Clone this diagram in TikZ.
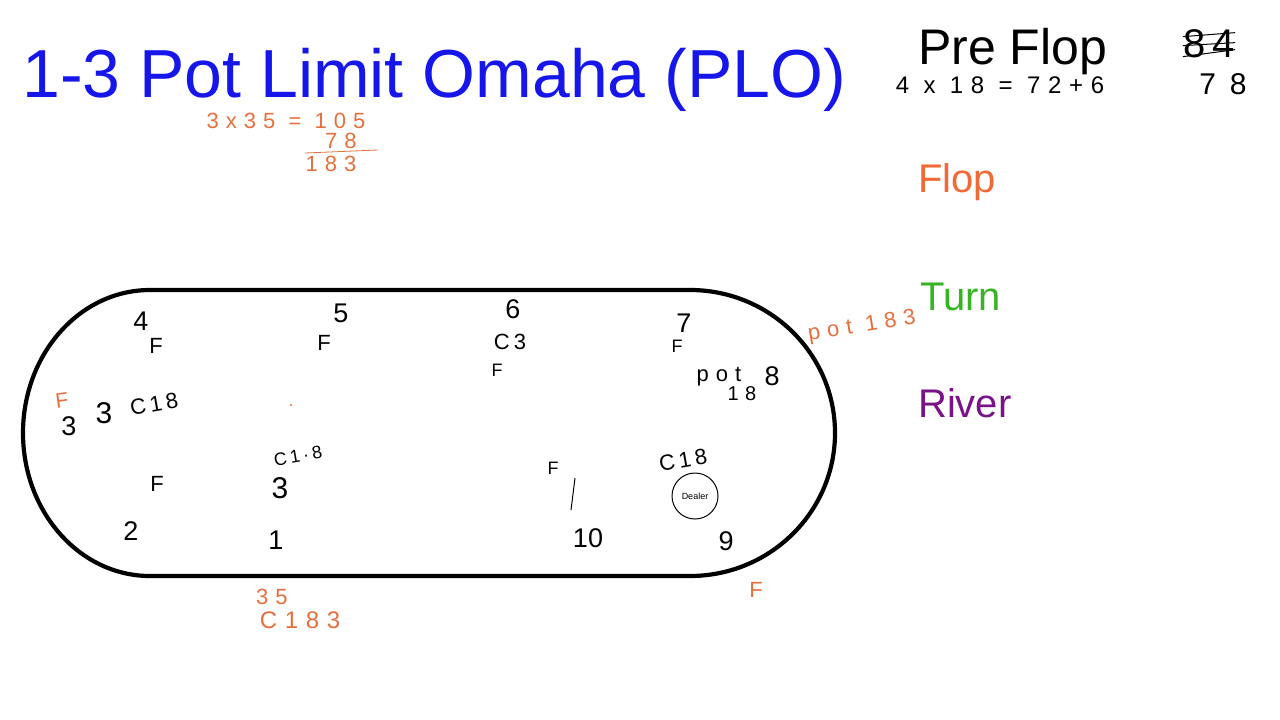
\documentclass[tikz,border=0pt]{standalone}
\usepackage{fontspec}
\setmainfont{Liberation Sans}
\newfontfamily\handfont[LetterSpace=18]{Liberation Sans}
\newfontfamily\widehand[LetterSpace=32]{Liberation Sans}
\usetikzlibrary{positioning}
\definecolor{titleblue}{RGB}{22,22,235}
\definecolor{floporange}{RGB}{240,105,55}
\definecolor{turngreen}{RGB}{55,180,35}
\definecolor{riverpurple}{RGB}{120,20,135}
\definecolor{inkorange}{RGB}{228,112,62}

\begin{document}
\begin{tikzpicture}[
    x=1pt, y=-1pt,
    title/.style   ={anchor=base west, inner sep=0pt, text=titleblue,
                     font=\fontsize{68}{72}\selectfont},
    street/.style  ={anchor=base west, inner sep=0pt,
                     font=\fontsize{40}{44}\selectfont},
    seat/.style    ={inner sep=0pt, font=\fontsize{27}{30}\selectfont},
    hand/.style    ={inner sep=0pt, font=\handfont\fontsize{22}{24}\selectfont},
    smallhand/.style={hand, font=\handfont\fontsize{18}{20}\selectfont},
    sums/.style    ={inner sep=0pt, font=\widehand\fontsize{22}{24}\selectfont},
    ohand/.style   ={hand, text=inkorange},
    osums/.style   ={sums, text=inkorange},
    tablerim/.style={draw=black, line width=4.2pt},
    dealer/.style  ={draw=black, line width=1pt, circle, minimum size=46pt,
                     inner sep=0pt, font=\fontsize{9}{10}\selectfont}
]
\useasboundingbox (0,0) rectangle (1280,720);

% --- Title and betting streets. ---
\node[title] (ttl) at (22,97) {1-3 Pot Limit Omaha (PLO)};
\node[street, font=\fontsize{50}{54}\selectfont] (pre) at (918,64) {Pre Flop};
\node[street, text=floporange]  (flop)  at (918,192) {Flop};
\node[street, text=turngreen]   (turn)  at (920,310) {Turn};
\node[street, text=riverpurple] (river) at (918,417) {River};

% --- Table outline: two half ellipses joined by straight rails. ---
\draw[tablerim] (150,290) -- (690,290)
  arc[start angle=90, end angle=-90, x radius=145pt, y radius=143pt]
  -- (150,576)
  arc[start angle=270, end angle=90, x radius=127pt, y radius=143pt]
  -- cycle;

% --- Seat numbers. ---
\node[seat] (s1)  at (276,540) {1};
\node[seat] (s2)  at (131,531) {2};
\node[seat] (s3)  at (69,426)  {3};
\node[seat] (s4)  at (141,321) {4};
\node[seat] (s5)  at (341,313) {5};
\node[seat] (s6)  at (513,309) {6};
\node[seat] (s7)  at (684,323) {7};
\node[seat] (s8)  at (772,376) {8};
\node[seat] (s9)  at (726,541) {9};
\node[seat] (s10) at (588,538) {10};

\node[dealer] (btn) at (695,496) {Dealer};

% --- Pre flop notes (black ink). ---
\node[sums, font=\widehand\fontsize{24}{26}\selectfont] (calc) at (1000,85) {4 x 18 = 72+6};
\node[hand, font=\handfont\fontsize{40}{42}\selectfont] (old) at (1209,44) {84};
\draw[line width=1pt] ([yshift=-7pt]old.north west) -- ([yshift=-3pt]old.north east);
\draw[line width=1pt] ([yshift=-16pt]old.north west) -- ([yshift=-13pt]old.north east);
\draw[line width=1pt] ([yshift=-27pt]old.north west) -- ([yshift=-20pt]old.north east);
\node[hand, font=\handfont\fontsize{30}{32}\selectfont] (new) at (1223,84) {7 8};

\node[hand] (a4)  at (156,346) {F};
\node[hand] (a5)  at (324,343) {F};
\node[hand] (a6)  at (510,342) {C3};
\node[smallhand] (a6b) at (497,370) {F};
\node[smallhand] (a7)  at (677,346) {F};
\node[sums] (a8)  at (719,377) {pot};
\node[sums, font=\widehand\fontsize{20}{22}\selectfont] (a8b) at (742,394) {18};
\node[hand, font=\handfont\fontsize{30}{32}\selectfont] (a3) at (104,413) {3};
\node[hand, rotate=10] (a3b) at (154,404) {C18};
\node[hand] (a2)  at (157,484) {F};
\node[smallhand, rotate=10] (a1) at (298,456) {C1·8};
\node[hand, font=\handfont\fontsize{30}{32}\selectfont] (a1b) at (280,488) {3};
\node[smallhand] (a10) at (553,468) {F};
\coordinate (slashtop) at (575,478);
\coordinate (slashbot) at (571,510);
\draw[line width=1pt] (slashtop) -- (slashbot);
\node[hand, rotate=10] (a9) at (683,460) {C18};

% --- Pot arithmetic (orange ink). ---
\node[osums] (o1) at (286,121) {3x35 = 105};
\node[osums] (o2) at (341,141) {78};
\node[osums] (o3) at (331,164) {183};
\coordinate (sumL) at (305,153);
\coordinate (sumR) at (378,150);
\draw[inkorange, line width=0.8pt] (sumL) -- (sumR);
\node[osums, rotate=9] (o4) at (862,327) {pot 183};
\node[ohand, font=\handfont\fontsize{21}{22}\selectfont, rotate=8] (o5) at (62,400) {F};
\node[ohand] (o6) at (756,590) {F};
\node[osums] (o7) at (272,597) {35};
\node[osums, font=\widehand\fontsize{24}{26}\selectfont] (o8) at (300,620) {C183};
\node[circle, fill=inkorange, inner sep=0.8pt] (odot) at (291,405) {};

\end{tikzpicture}
\end{document}
